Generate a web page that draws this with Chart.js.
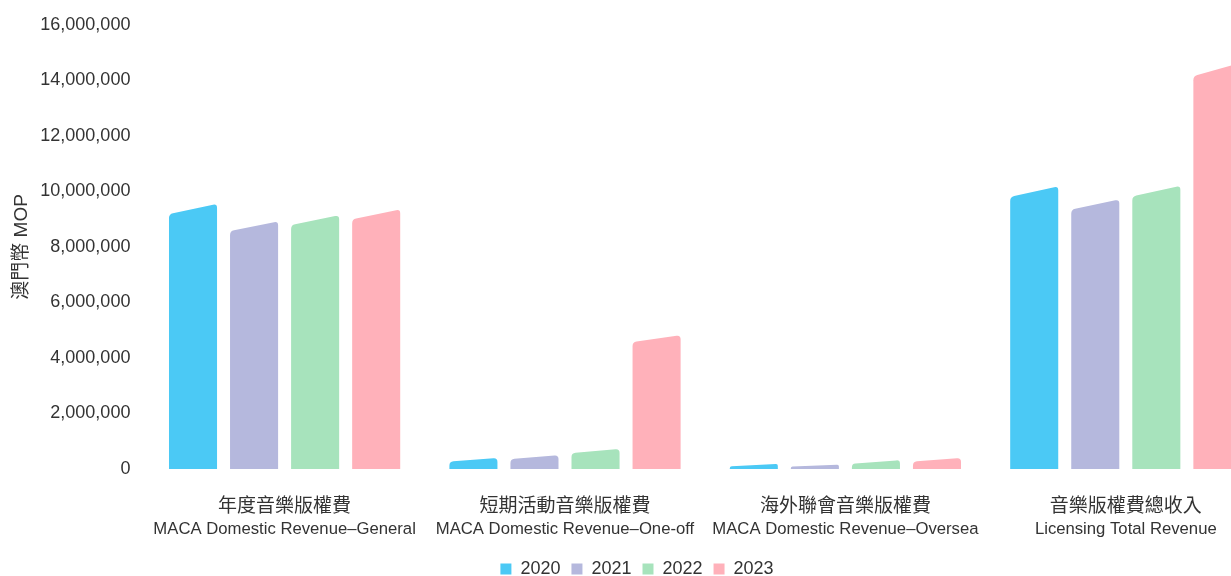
<!DOCTYPE html>
<html>
<head>
<meta charset="utf-8">
<script src="https://cdn.jsdelivr.net/npm/chart.js@4"></script>
<style>
    html, body { margin: 0; padding: 0; background: #fff; overflow: hidden; }
    #wrap { width: 1278px; height: 588px; position: relative; }
</style>
</head>
<body>
<div id="wrap"><canvas id="royaltyChart"></canvas></div>
<script>
// Categories: Chinese name and English name
const categoriesZh = ["年度音樂版權費", "短期活動音樂版權費", "海外聯會音樂版權費", "音樂版權費總收入"];
const categoriesEn = [
    "MACA Domestic Revenue–General",
    "MACA Domestic Revenue–One-off",
    "MACA Domestic Revenue–Oversea",
    "Licensing Total Revenue"
];

const years = ["2020", "2021", "2022", "2023"];

// MOP values per year, one per category
const values2020 = [9550000, 400000, 180000, 10180000];
const values2021 = [8920000, 500000, 160000, 9710000];
const values2022 = [9140000, 720000, 320000, 10200000];
const values2023 = [9350000, 4820000, 400000, 14640000];

const yearColors = ["#4bc9f5", "#b5b8dd", "#a7e3bc", "#ffb1ba"];

const textColor = "#333333";
const fontFamily = "'Liberation Sans', 'Noto Sans CJK TC', sans-serif";

// Draw each bar with a slanted, rounded top instead of the default rectangle
const slantedBars = {
    id: "slantedBars",
    beforeDatasetDraw(chart, args) {
        const ctx = chart.ctx;
        const color = chart.data.datasets[args.index].backgroundColor;
        ctx.save();
        ctx.fillStyle = color;
        args.meta.data.forEach(bar => {
            const left = bar.x - bar.width / 2;
            const right = bar.x + bar.width / 2;
            const base = bar.base;
            const yr = bar.y;
            const h = base - yr;
            if (h <= 0) return;
            const drop = Math.min(h * 0.45, 3.5 + 0.025 * h);
            const yl = yr + drop;
            const slope = drop / bar.width;
            const r = Math.max(0, Math.min(4, (base - yl) * 0.8, h * 0.4));
            ctx.beginPath();
            ctx.moveTo(left, base);
            ctx.lineTo(left, yl + r);
            ctx.quadraticCurveTo(left, yl, left + r, yl - slope * r);
            ctx.lineTo(right - r, yr + slope * r);
            ctx.quadraticCurveTo(right, yr, right, yr + r);
            ctx.lineTo(right, base);
            ctx.closePath();
            ctx.fill();
        });
        ctx.restore();
        return false;
    }
};

// Second (English) line under each category, smaller than the Chinese tick
const englishLabels = {
    id: "englishLabels",
    afterDraw(chart) {
        const ctx = chart.ctx;
        const xScale = chart.scales.x;
        ctx.save();
        ctx.fillStyle = textColor;
        ctx.font = "16.7px " + fontFamily;
        ctx.textAlign = "center";
        ctx.textBaseline = "middle";
        categoriesEn.forEach((label, i) => {
            ctx.fillText(label, xScale.getPixelForTick(i), chart.chartArea.bottom + 60);
        });
        ctx.restore();
    }
};

const ctx = document.getElementById("royaltyChart").getContext("2d");

new Chart(ctx, {
    type: "bar",
    data: {
        labels: categoriesZh,
        datasets: [
            { label: years[0], data: values2020, backgroundColor: yearColors[0] },
            { label: years[1], data: values2021, backgroundColor: yearColors[1] },
            { label: years[2], data: values2022, backgroundColor: yearColors[2] },
            { label: years[3], data: values2023, backgroundColor: yearColors[3] }
        ]
    },
    options: {
        responsive: true,
        maintainAspectRatio: false,
        animation: false,
        categoryPercentage: 0.871,
        barPercentage: 0.787,
        layout: {
            padding: { top: 9, right: 12, bottom: 0, left: 8 }
        },
        plugins: {
            legend: {
                position: "bottom",
                labels: {
                    boxWidth: 11,
                    boxHeight: 11,
                    padding: 11,
                    color: textColor,
                    font: { family: fontFamily, size: 18 }
                }
            },
            tooltip: { enabled: false }
        },
        scales: {
            x: {
                grid: { display: false, drawTicks: false },
                border: { display: false },
                ticks: {
                    color: textColor,
                    padding: 26,
                    maxRotation: 0,
                    autoSkip: false,
                    font: { family: fontFamily, size: 19 }
                },
                afterFit: scale => { scale.height = 80; }
            },
            y: {
                min: 0,
                max: 16000000,
                grid: { display: false, drawTicks: false },
                border: { display: false },
                ticks: {
                    stepSize: 2000000,
                    color: textColor,
                    padding: 14,
                    font: { family: fontFamily, size: 18 },
                    callback: v => v.toLocaleString("en-US")
                },
                title: {
                    display: true,
                    text: "澳門幣 MOP",
                    color: textColor,
                    padding: { top: 2, bottom: 0 },
                    font: { family: fontFamily, size: 19 }
                },
                afterFit: scale => { scale.width = 136.4; }
            }
        }
    },
    plugins: [slantedBars, englishLabels]
});
</script>
</body>
</html>
